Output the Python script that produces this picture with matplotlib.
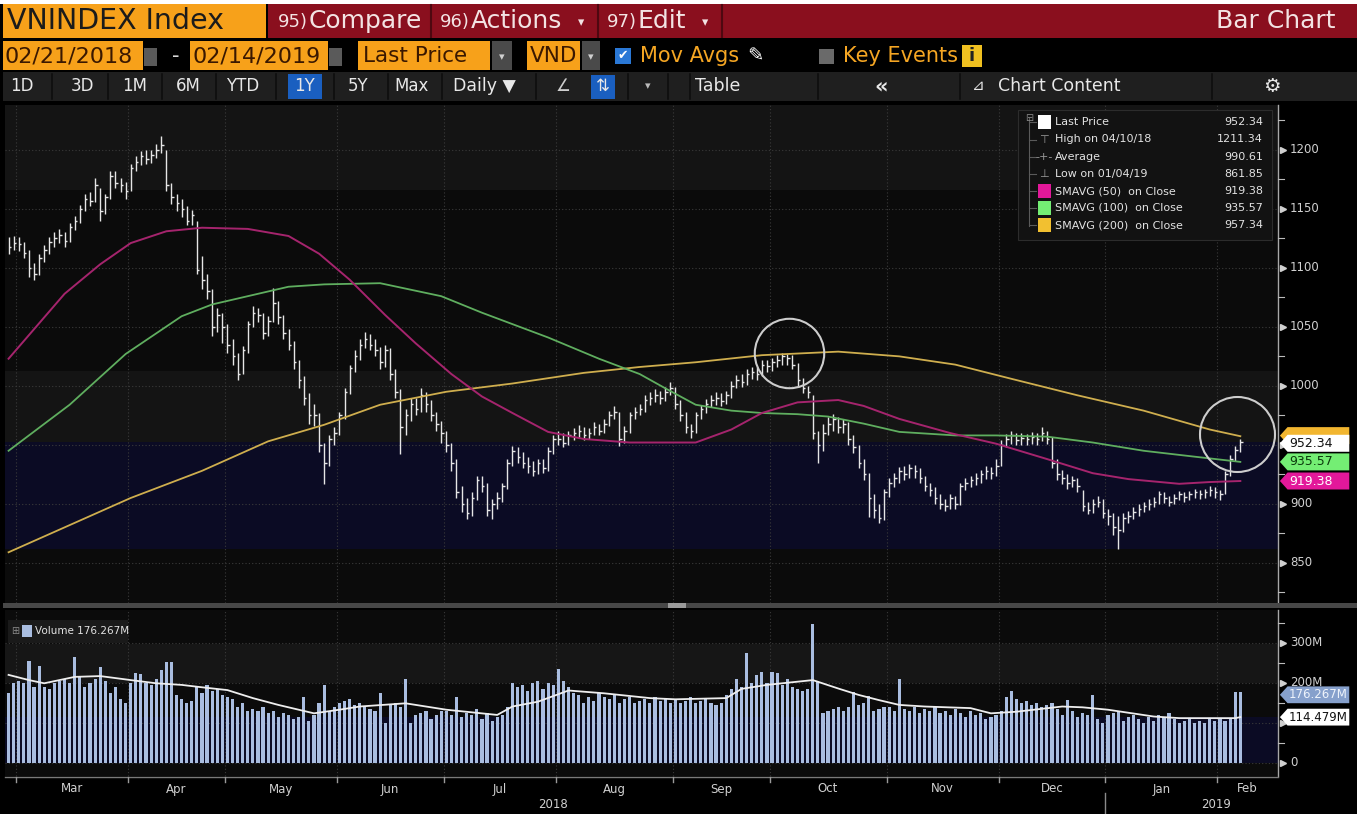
import numpy as np
import pandas as pd
import matplotlib
matplotlib.use('Agg')  # no display
import matplotlib.pyplot as plt
from matplotlib.patches import Rectangle, Polygon
from matplotlib.lines import Line2D

# ---------------- data ----------------
start, end = '2018-02-27', '2019-02-14'
holidays = ['2018-04-25', '2018-04-30', '2018-05-01', '2018-09-03', '2019-01-01',
            '2019-02-04', '2019-02-05', '2019-02-06', '2019-02-07', '2019-02-08']

close = [1118, 1121,
         1120, 1113, 1100, 1095, 1108, 1115, 1122, 1125, 1128, 1123, 1135, 1140, 1150, 1158, 1157,
         1170, 1148, 1160, 1178, 1172, 1170, 1165,
         1185, 1190, 1195, 1192, 1196, 1200, 1204, 1170, 1160, 1155, 1150, 1140, 1145, 1098, 1090,
         1080, 1050, 1060, 1050,
         1035, 1025, 1010, 1030, 1052, 1062, 1060, 1045, 1055, 1070, 1058, 1045, 1035, 1020, 1005,
         990, 975, 975, 950, 935, 955, 960,
         975, 995, 1015, 1025, 1035, 1040, 1035, 1030, 1020, 1030, 1010, 995, 965, 975, 985, 980,
         992, 985, 975, 968, 960,
         950, 935, 910, 900, 892, 905, 920, 915, 895, 900, 905, 915, 935, 945, 940, 935, 932, 928,
         935, 930, 945, 955,
         955, 952, 958, 960, 962, 958, 960, 965, 962, 968, 975, 978, 955, 962, 975, 978, 980, 988,
         990, 992, 990, 995, 998,
         985, 975, 965, 962, 975, 980, 985, 988, 990, 987, 992, 1000, 1005, 1003, 1010, 1012, 1010,
         1018, 1017,
         1020, 1022, 1025, 1024, 1018, 1005, 998, 995, 960, 950, 960, 968, 972, 965, 968, 955, 948,
         935, 925, 905, 895, 888, 910,
         918, 922, 928, 925, 930, 928, 922, 915, 912, 905, 900, 898, 905, 900, 915, 918, 920, 922,
         925, 928, 926, 932,
         950, 955, 958, 954, 956, 955, 957, 955, 960, 955, 935, 925, 922, 918, 920, 915, 898, 895,
         900, 902, 892,
         890, 880, 878, 888, 890, 893, 896, 898, 900, 902, 908, 905, 902, 905, 908, 906, 908, 910,
         908, 910, 912, 910,
         908, 925, 938, 946, 952.34]

high = [1126, 1127,
        1126, 1122, 1115, 1104, 1112, 1119, 1126, 1130, 1133, 1130, 1138, 1144, 1153, 1163, 1164,
        1176, 1168, 1163, 1182, 1182, 1176, 1173,
        1188, 1195, 1199, 1200, 1200, 1205, 1211.34, 1200, 1172, 1163, 1158, 1152, 1149, 1140, 1110,
        1095, 1082, 1066, 1062,
        1052, 1040, 1028, 1034, 1055, 1068, 1066, 1062, 1059, 1083, 1072, 1060, 1048, 1038, 1022,
        1008, 994, 985, 977, 952, 958, 965,
        978, 998, 1018, 1030, 1040, 1046, 1044, 1040, 1033, 1035, 1032, 1014, 997, 980, 990, 990,
        998, 995, 988, 978, 970,
        962, 952, 938, 915, 905, 910, 924, 924, 918, 904, 910, 918, 938, 949, 948, 944, 940, 936,
        938, 938, 948, 958,
        962, 960, 962, 964, 967, 965, 964, 969, 968, 972, 979, 983, 978, 966, 978, 982, 985, 992,
        995, 997, 996, 999, 1003,
        999, 988, 978, 968, 978, 984, 989, 992, 995, 994, 996, 1004, 1009, 1010, 1014, 1016, 1016,
        1022, 1022,
        1024, 1026, 1028, 1027, 1026, 1019, 1007, 1000, 992, 962, 968, 974, 976, 974, 972, 969, 958,
        950, 938, 926, 908, 900, 913,
        922, 926, 931, 932, 934, 933, 930, 924, 918, 914, 908, 904, 908, 907, 918, 922, 924, 926,
        929, 932, 931, 938,
        954, 959, 962, 960, 960, 959, 961, 960, 965, 962, 957, 938, 929, 925, 924, 922, 912, 902,
        904, 907, 904,
        896, 892, 890, 892, 894, 897, 900, 902, 904, 906, 911, 910, 907, 908, 911, 910, 911, 913,
        912, 913, 915, 914,
        912, 928, 941, 949, 955]

low = [1112, 1115,
       1114, 1108, 1092, 1090, 1094, 1105, 1112, 1118, 1121, 1118, 1122, 1132, 1138, 1148, 1152,
       1156, 1140, 1146, 1158, 1168, 1164, 1158,
       1165, 1182, 1187, 1188, 1189, 1193, 1197, 1165, 1154, 1148, 1143, 1136, 1136, 1095, 1082,
       1074, 1042, 1046, 1036,
       1028, 1018, 1005, 1010, 1028, 1050, 1054, 1040, 1042, 1054, 1052, 1040, 1030, 1014, 998,
       984, 968, 966, 944, 917, 932, 950,
       958, 972, 993, 1012, 1022, 1032, 1030, 1025, 1014, 1016, 1005, 990, 942, 958, 970, 975,
       978, 978, 970, 962, 952,
       944, 928, 905, 893, 887, 890, 903, 910, 890, 887, 896, 902, 913, 932, 935, 930, 926, 924,
       925, 926, 928, 942,
       950, 948, 950, 954, 956, 954, 955, 958, 958, 960, 966, 972, 949, 952, 960, 972, 975, 978,
       984, 986, 985, 987, 992,
       980, 970, 960, 956, 960, 972, 977, 982, 984, 983, 985, 990, 998, 999, 1001, 1006, 1005,
       1008, 1012,
       1013, 1016, 1018, 1018, 1014, 1000, 994, 990, 955, 935, 945, 958, 962, 960, 960, 950, 943,
       930, 920, 889, 888, 884, 886,
       906, 914, 918, 920, 922, 922, 918, 911, 907, 900, 896, 894, 896, 896, 899, 912, 914, 916,
       918, 921, 921, 924,
       932, 948, 951, 950, 950, 950, 951, 950, 953, 951, 930, 920, 917, 913, 914, 910, 894, 891,
       892, 897, 888,
       882, 874, 861.85, 876, 884, 887, 890, 893, 895, 897, 900, 901, 898, 900, 903, 902, 903, 905,
       904, 905, 907, 905,
       903, 908, 924, 936, 944]

# volume, millions of shares
volume = [175, 200,
          205, 200, 255, 190, 242, 190, 185, 200, 205, 210, 200, 265, 215, 190, 200, 210, 240, 205,
          175, 190, 160, 150,
          200, 225, 222, 200, 195, 210, 232, 252, 253, 170, 160, 150, 155, 190, 175, 195, 180, 185, 170,
          165, 160, 140, 150, 130, 135, 130, 140, 125, 130, 115, 125, 120, 110, 115, 165, 105, 120,
          150, 195, 130, 140,
          150, 155, 160, 145, 150, 140, 135, 130, 175, 100, 145, 150, 140, 210, 100, 120, 125, 130,
          110, 120, 130,
          130, 120, 165, 115, 125, 120, 135, 110, 125, 105, 115, 120, 140, 200, 190, 195, 180, 200,
          205, 185, 200, 195,
          235, 205, 190, 175, 170, 150, 165, 155, 175, 165, 160, 170, 150, 160, 165, 150, 155, 160,
          150, 165, 155, 160, 150,
          160, 150, 155, 165, 150, 155, 160, 150, 145, 150, 170, 185, 210, 190, 275, 200, 220, 228, 200,
          228, 225, 195, 210, 190, 185, 180, 185, 348, 205, 125, 130, 135, 140, 130, 140, 178, 145,
          150, 168, 130, 135, 140,
          140, 130, 210, 135, 130, 140, 125, 135, 130, 140, 125, 130, 120, 135, 125, 115, 130, 120,
          125, 110, 115, 120,
          130, 165, 180, 160, 150, 155, 145, 150, 140, 145, 150, 135, 120, 158, 130, 115, 125, 120,
          170, 110, 100,
          120, 125, 130, 105, 115, 120, 110, 100, 115, 105, 120, 115, 125, 110, 100, 105, 110, 100,
          105, 100, 110, 105,
          110, 105, 110, 178, 176.267]

# moving averages, sampled along the curves (bar index, value)
sma50_idx = [0, 5, 11, 18, 24, 31, 38, 47, 55, 61, 67, 74, 80, 87, 93, 99, 106, 113, 122, 135,
             142, 148, 155, 163, 168, 175, 185, 194, 204, 213, 220, 230, 236, 242]
sma50_val = [1023, 1048, 1078, 1103, 1121, 1131, 1134, 1133, 1127, 1112, 1090, 1060, 1036, 1010,
             991, 977, 961, 955, 952, 952, 963, 977, 986, 988, 983, 972, 960, 951, 938, 926, 921,
             917, 918.5, 919.38]
sma100_idx = [0, 12, 23, 34, 40, 47, 55, 62, 73, 85, 93, 106, 116, 124, 129, 135, 142, 148, 155,
              161, 168, 175, 186, 194, 204, 213, 223, 233, 242]
sma100_val = [945, 984, 1027, 1059, 1069, 1076, 1084, 1086, 1087, 1076, 1062, 1041, 1023, 1010,
              998, 984, 979, 977, 976, 974, 968, 961, 958, 958, 957, 952, 945, 940, 935.57]
sma200_idx = [0, 12, 24, 38, 51, 62, 73, 86, 99, 113, 124, 135, 148, 163, 175, 186, 197, 210,
              223, 236, 242]
sma200_val = [859, 882, 905, 928, 953, 967, 984, 995, 1002, 1011, 1016, 1020, 1026, 1029, 1025,
              1018, 1006, 992, 979, 963, 957.34]
vma_idx = [0, 4, 7, 13, 18, 24, 29, 34, 38, 43, 48, 53, 60, 65, 69, 78, 86, 96, 99, 104, 110,
           117, 126, 131, 141, 144, 149, 158, 163, 167, 171, 175, 180, 189, 193, 198, 207, 211,
           216, 225, 230, 241, 242]
vma_val = [220, 207, 199, 215, 217, 207, 199, 195, 189, 182, 162, 145, 124, 133, 141, 149, 133,
           120, 141, 153, 181, 174, 162, 159, 162, 185, 195, 207, 186, 170, 157, 145, 141, 137,
           124, 128, 141, 139, 133, 116, 112, 112, 114.479]

average_price = 990.61
circle_idx = [153.4, 241.4]
circle_val = [1028, 959]
circle_ms = [50, 54]

price_ticks = [850, 900, 950, 1000, 1050, 1100, 1150, 1200]
price_tick_labels = ['850', '900', '', '1000', '1050', '1100', '1150', '1200']  # 950 hidden by tags
price_minor = [825, 875, 925, 975, 1025, 1075, 1125, 1175, 1225]
vol_ticks = [0, 100, 200, 300]
vol_tick_labels = ['0', '', '200M', '300M']   # 100M sits hidden under the MA tag
vol_minor = [50, 150, 250, 350]

# ---------------- helpers ----------------
FONT = 'DejaVu Sans'
W, H = 1357, 814
XMIN, XMAX = -0.7, 249.4

dates = pd.bdate_range(start, end).drop(pd.to_datetime(holidays))
idx = np.arange(len(dates))

fig = plt.figure(figsize=(W / 100, H / 100), dpi=100)
fig.patch.set_facecolor('#000000')


def fx(x):
    return x / W


def fy(y):
    return 1 - y / H


def box(x0, y0, x1, y1, color, z=1, ec='none'):
    fig.patches.append(Rectangle((fx(x0), fy(y1)), (x1 - x0) / W, (y1 - y0) / H,
                                 transform=fig.transFigure, facecolor=color,
                                 edgecolor=ec, lw=0.8, zorder=z))


def txt(x, y, s, color='#e6e6e6', size=12, ha='left', z=3, **kw):
    fig.text(fx(x), fy(y), s, color=color, fontsize=size, ha=ha, va='center',
             family=FONT, zorder=z, **kw)


def fline(x0, y0, x1, y1, color, lw=1.0, z=2):
    fig.add_artist(Line2D([fx(x0), fx(x1)], [fy(y0), fy(y1)], color=color, lw=lw, zorder=z))


def idx_px(i):
    return 5 + (i - XMIN) / (XMAX - XMIN) * 1273


# ---------------- header rows ----------------
box(0, 0, W, 4, '#ffffff')
box(3, 4, 266, 38, '#f7a11a')
txt(7, 21, 'VNINDEX Index', '#1b1b1b', 20.5)
box(268, 4, W, 38, '#8a0f1e')
for sx in [431, 598, 722]:
    fline(sx, 5, sx, 37, '#4e0810', lw=1.5)
hdr = '#f3e3e3'
txt(278, 22, '95)', hdr, 13)
txt(309, 21, 'Compare', hdr, 18)
txt(440, 22, '96)', hdr, 13)
txt(471, 21, 'Actions', hdr, 18)
txt(578, 23, '▾', hdr, 9)
txt(607, 22, '97)', hdr, 13)
txt(638, 21, 'Edit', hdr, 18)
txt(702, 23, '▾', hdr, 9)
txt(1336, 21, 'Bar Chart', hdr, 18, ha='right')

orange = '#f7a11a'
box(3, 41, 143, 70, orange)
txt(5, 56, '02/21/2018', '#3a1800', 16)
box(144, 48, 157, 66, '#5a5a5a')
txt(172, 56, '-', '#d8d8d8', 15)
box(190, 41, 328, 70, orange)
txt(192, 56, '02/14/2019', '#3a1800', 16)
box(329, 48, 342, 66, '#5a5a5a')
box(358, 41, 490, 70, orange)
txt(363, 56, 'Last Price', '#3a1800', 15.5)
box(492, 41, 512, 70, '#4a4a4a')
txt(502, 57, '▾', '#d0d0d0', 8, ha='center')
box(527, 41, 580, 70, orange)
txt(530, 56, 'VND', '#3a1800', 15.5)
box(582, 41, 600, 70, '#4a4a4a')
txt(591, 57, '▾', '#d0d0d0', 8, ha='center')
box(615, 48, 631, 64, '#2a78d6')
txt(623, 56, '✔', '#ffffff', 9, ha='center')
txt(640, 56, 'Mov Avgs', '#f5a623', 15)
txt(747, 56, '✎', '#ffffff', 14)
box(819, 49, 834, 64, '#6a6a6a')
txt(843, 56, 'Key Events', '#f5a623', 15)
box(962, 45, 982, 67, '#f0c020')
txt(972, 56, 'i', '#222222', 13, ha='center', weight='bold')

box(3, 72, W, 101, '#1f1f1f')
for sx in [52, 108, 162, 216, 276, 334, 388, 442, 536, 628, 668, 690, 818, 960, 1212]:
    fline(sx, 74, sx, 99, '#0e0e0e', lw=1.2)
box(288, 74, 322, 99, '#1a5fc0')
box(591, 75, 615, 99, '#1a5fc0')
for lx, s in [(22, '1D'), (82, '3D'), (135, '1M'), (188, '6M'), (243, 'YTD'), (305, '1Y'),
              (358, '5Y'), (412, 'Max')]:
    txt(lx, 86, s, '#e8e8e8', 12, ha='center')
txt(453, 86, 'Daily ▼', '#e8e8e8', 12.5)
txt(563, 86, '∠', '#cfcfcf', 12, ha='center')
txt(603, 86, '⇅', '#e8e8e8', 12, ha='center')
txt(648, 86, '▾', '#bbbbbb', 8, ha='center')
txt(718, 86, 'Table', '#e8e8e8', 12.5, ha='center')
txt(881, 86, '«', '#e8e8e8', 15, ha='center', weight='bold')
txt(978, 86, '⊿', '#e8e8e8', 11, ha='center')
txt(998, 86, 'Chart Content', '#e8e8e8', 12.5)
txt(1272, 86, '⚙', '#e8e8e8', 14, ha='center')

# ---------------- price panel ----------------
ax = fig.add_axes([fx(5), fy(603), 1273 / W, (603 - 105) / H])
ax.set_xlim(XMIN, XMAX)
ax.set_ylim(816, 1238)
ax.set_facecolor('#0b0b0b')
for s in ax.spines.values():
    s.set_visible(False)
ax.set_xticks([])
ax.set_yticks([])
ax.axhspan(1166, 1238, color='#141414', lw=0)
ax.axhspan(952.34, 1013, color='#141414', lw=0)
ax.axhspan(861.85, 952.34, color='#0b0b24', lw=0)

month_key = dates.year * 12 + dates.month
starts = np.flatnonzero(np.diff(month_key)) + 1
bounds = starts - 0.5
for v in price_ticks:
    ax.axhline(v, color='#3a3a3a', lw=0.8, ls=(0, (1, 2)), zorder=1)
for b in bounds:
    ax.axvline(b, color='#3a3a3a', lw=0.8, ls=(0, (1, 2)), zorder=1)

ax.vlines(idx, low, high, color='#e6e6e6', lw=1.0, zorder=3)
ax.hlines(close, idx, idx + 0.5, color='#e6e6e6', lw=1.0, zorder=3)

ax.plot(sma200_idx, sma200_val, color='#cfae4e', lw=1.3, zorder=4)
ax.plot(sma100_idx, sma100_val, color='#5fae5f', lw=1.3, zorder=4)
ax.plot(sma50_idx, sma50_val, color='#a5246d', lw=1.4, zorder=4)

for ci, cv, cm in zip(circle_idx, circle_val, circle_ms):
    ax.plot(ci, cv, 'o', ms=cm, mfc='none', mec='#cdcdcd', mew=1.5, zorder=5)

ptrans = ax.get_yaxis_transform()
ax.plot([1.0, 1.0], [0, 1], transform=ax.transAxes, color='#a8a8a8', lw=1.0, clip_on=False)
for v, lab in zip(price_ticks, price_tick_labels):
    ax.plot([1.004], [v], marker='>', ms=4, color='#cfcfcf', transform=ptrans, clip_on=False)
    if lab:
        ax.text(1.0095, v, lab, transform=ptrans, color='#d0d0d0', fontsize=8.5,
                va='center', ha='left', family=FONT, clip_on=False)
for v in price_minor:
    ax.plot([1.0, 1.0045], [v, v], color='#bbbbbb', lw=0.8, transform=ptrans, clip_on=False)


def tag(axis, v, text, bg, fg, half, size=9):
    tr = axis.get_yaxis_transform()
    pts = [(1.0015, v), (1.0075, v + half), (1.056, v + half), (1.056, v - half),
           (1.0075, v - half)]
    axis.add_patch(Polygon(pts, closed=True, transform=tr, facecolor=bg, edgecolor='none',
                           clip_on=False, zorder=6))
    if text:
        axis.text(1.0085, v, text, transform=tr, color=fg, fontsize=size, va='center',
                  ha='left', family=FONT, clip_on=False, zorder=7)


# the 200-day tag sits almost fully hidden behind the last-price tag
tag(ax, sma200_val[-1] + 0.5, '', '#f2b630', '#3a2a00', 7.2)
tag(ax, close[-1] - 1.0, f'{close[-1]:.2f}', '#ffffff', '#111111', 7.2)
tag(ax, sma100_val[-1], f'{sma100_val[-1]:.2f}', '#74ee74', '#0c3a0c', 7.2)
tag(ax, sma50_val[-1], f'{sma50_val[-1]:.2f}', '#e3189a', '#ffffff', 7.2)

# legend box
box(1018, 110, 1272, 240, '#121212', z=5, ec='#2c2c2c')
fline(1029, 118, 1029, 226, '#5a5a5a', lw=0.8, z=6)
txt(1029, 118, '⊟', '#8a8a8a', 7, ha='center', z=7)
rows_y = [122, 139.5, 157, 174, 191, 208, 225]
hi_i = int(np.argmax(high))
lo_i = int(np.argmin(low))
leg_rows = [('Last Price', f'{close[-1]:.2f}'),
            (f'High on {dates[hi_i]:%m/%d/%y}', f'{high[hi_i]:.2f}'),
            ('Average', f'{average_price:.2f}'),
            (f'Low on {dates[lo_i]:%m/%d/%y}', f'{low[lo_i]:.2f}'),
            ('SMAVG (50)  on Close', f'{sma50_val[-1]:.2f}'),
            ('SMAVG (100)  on Close', f'{sma100_val[-1]:.2f}'),
            ('SMAVG (200)  on Close', f'{sma200_val[-1]:.2f}')]
icon_colors = ['#ffffff', None, None, None, '#e3189a', '#74ee74', '#f2c030']
icon_glyphs = [None, '⊤', '-+-', '⊥', None, None, None]
for ry, (name, val), ic, ig in zip(rows_y, leg_rows, icon_colors, icon_glyphs):
    if ic:
        box(1038, ry - 6.5, 1051, ry + 6.5, ic, z=6)
    else:
        txt(1044, ry, ig, '#9a9a9a', 8, ha='center', z=7)
    fline(1029, ry, 1036, ry, '#5a5a5a', lw=0.8, z=6)
    txt(1055, ry, name, '#e2e2e2', 8, z=7)
    txt(1263, ry, val, '#e2e2e2', 8, ha='right', z=7)

# panel separator
box(3, 603, W, 608, '#474747', z=1)
box(668, 603, 686, 608, '#9a9a9a', z=1)

# ---------------- volume panel ----------------
vax = fig.add_axes([fx(5), fy(776), 1273 / W, (776 - 610) / H])
vax.set_xlim(XMIN, XMAX)
vax.set_ylim(-32.5, 382)
vax.set_facecolor('#0b0b0b')
for s in vax.spines.values():
    s.set_visible(False)
vax.set_xticks([])
vax.set_yticks([])
vax.axhspan(200, 297, color='#161616', lw=0)
vax.axhspan(0, vma_val[-1], color='#0b0b24', lw=0)
for v in vol_ticks:
    vax.axhline(v, color='#3a3a3a', lw=0.8, ls=(0, (1, 2)), zorder=1)
for b in bounds:
    vax.axvline(b, color='#3a3a3a', lw=0.8, ls=(0, (1, 2)), zorder=1)
vax.bar(idx, volume, width=0.62, color='#a9bde0', lw=0, zorder=3)
vax.plot(vma_idx, vma_val, color='#eeeeee', lw=1.3, zorder=4)

vtrans = vax.get_yaxis_transform()
vax.plot([1.0, 1.0], [0, 1], transform=vax.transAxes, color='#a8a8a8', lw=1.0, clip_on=False)
for v, lab in zip(vol_ticks, vol_tick_labels):
    vax.plot([1.004], [v], marker='>', ms=4, color='#cfcfcf', transform=vtrans, clip_on=False)
    if lab:
        vax.text(1.0095, v, lab, transform=vtrans, color='#d0d0d0', fontsize=8.5,
                 va='center', ha='left', family=FONT, clip_on=False)
for v in vol_minor:
    vax.plot([1.0, 1.0045], [v, v], color='#bbbbbb', lw=0.8, transform=vtrans, clip_on=False)
tag(vax, volume[-1] - 6, f'{volume[-1]:.3f}M', '#86a0cc', '#eef3fb', 21, size=8.5)
tag(vax, vma_val[-1], f'{vma_val[-1]:.3f}M', '#ffffff', '#111111', 21, size=8.5)

box(8, 620, 128, 643, '#1a1a1a', z=5)
txt(15, 631, '⊞', '#8a8a8a', 7, ha='center', z=6)
box(22, 625, 32, 637, '#a9bde0', z=6)
txt(35, 631, f'Volume {volume[-1]:.3f}M', '#e2e2e2', 7.5, z=6)

# ---------------- time axis ----------------
fline(5, 777, 1278, 777, '#7a7a7a', lw=1.0)
for b in bounds:
    bx = idx_px(b)
    fline(bx, 777, bx, 782, '#9a9a9a', lw=1.0)
seg_lo = [XMIN] + list(bounds)
seg_hi = list(bounds) + [XMAX]
seg_first = [0] + list(starts)
for lo_b, hi_b, fi in zip(seg_lo, seg_hi, seg_first):
    if hi_b - lo_b < 5:
        continue
    txt(idx_px((lo_b + hi_b) / 2), 789, f'{dates[fi]:%b}', '#d0d0d0', 8.5, ha='center')

years = dates.year.values
ystart = np.flatnonzero(np.diff(years)) + 1
ypx = [0] + [idx_px(b - 0.5) for b in ystart] + [W - 30]
for k, fi in enumerate([0] + list(ystart)):
    txt((ypx[k] + ypx[k + 1]) / 2, 804, f'{dates[fi].year}', '#d0d0d0', 8.5, ha='center')
for b in ystart:
    fline(idx_px(b - 0.5), 793, idx_px(b - 0.5), H, '#8a8a8a', lw=1.0)

fig.savefig('out.png', dpi=100, facecolor=fig.get_facecolor())
